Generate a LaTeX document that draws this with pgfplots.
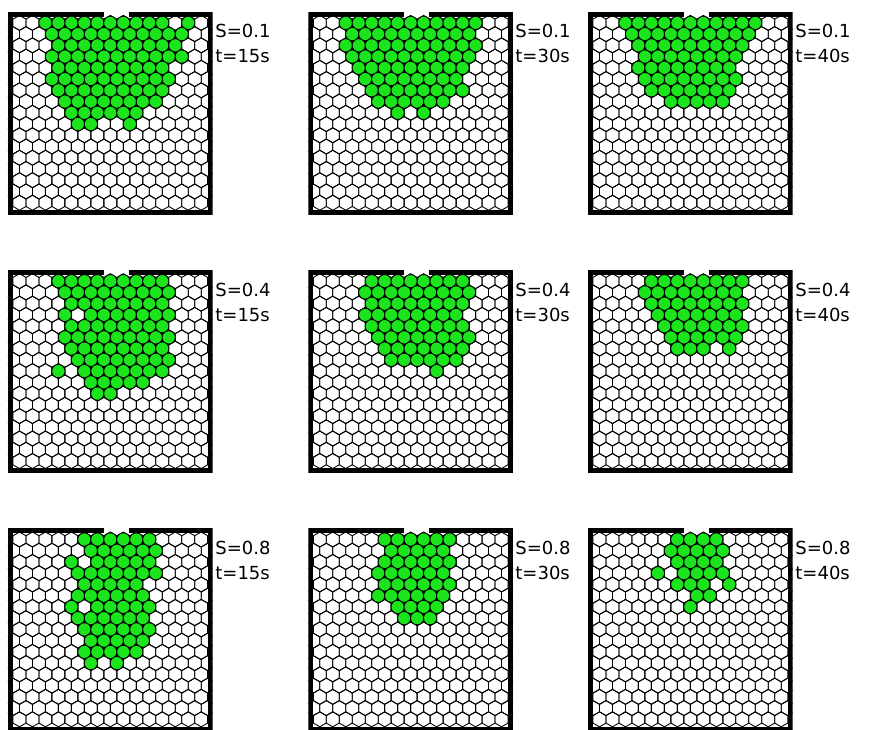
\documentclass[border=0pt]{standalone}
\usepackage{pgfplots}
\pgfplotsset{compat=1.18}
\usepackage{pgfplotstable}
\usepackage{fontspec}
\setmainfont{DejaVu Sans}
\definecolor{simgreen}{RGB}{28,228,28}

\pgfdeclareplotmark{hexa}{%
  \pgfpathmoveto{\pgfqpoint{0pt}{\pgfplotmarksize}}%
  \pgfpathlineto{\pgfqpoint{0.866\pgfplotmarksize}{0.5\pgfplotmarksize}}%
  \pgfpathlineto{\pgfqpoint{0.866\pgfplotmarksize}{-0.5\pgfplotmarksize}}%
  \pgfpathlineto{\pgfqpoint{0pt}{-\pgfplotmarksize}}%
  \pgfpathlineto{\pgfqpoint{-0.866\pgfplotmarksize}{-0.5\pgfplotmarksize}}%
  \pgfpathlineto{\pgfqpoint{-0.866\pgfplotmarksize}{0.5\pgfplotmarksize}}%
  \pgfpathclose
  \pgfusepathqstroke}

% lattice of cells: x = column position, y = row index (top row 0)
\pgfplotstableread[row sep=\\]{x y\\
0.5 0\\1.5 0\\2.5 0\\3.5 0\\4.5 0\\5.5 0\\6.5 0\\7.5 0\\8.5 0\\9.5 0\\10.5 0\\11.5 0\\12.5 0\\13.5 0\\14.5 0\\
0 1\\1 1\\2 1\\3 1\\4 1\\5 1\\6 1\\7 1\\8 1\\9 1\\10 1\\11 1\\12 1\\13 1\\14 1\\15 1\\
0.5 2\\1.5 2\\2.5 2\\3.5 2\\4.5 2\\5.5 2\\6.5 2\\7.5 2\\8.5 2\\9.5 2\\10.5 2\\11.5 2\\12.5 2\\13.5 2\\14.5 2\\
0 3\\1 3\\2 3\\3 3\\4 3\\5 3\\6 3\\7 3\\8 3\\9 3\\10 3\\11 3\\12 3\\13 3\\14 3\\15 3\\
0.5 4\\1.5 4\\2.5 4\\3.5 4\\4.5 4\\5.5 4\\6.5 4\\7.5 4\\8.5 4\\9.5 4\\10.5 4\\11.5 4\\12.5 4\\13.5 4\\14.5 4\\
0 5\\1 5\\2 5\\3 5\\4 5\\5 5\\6 5\\7 5\\8 5\\9 5\\10 5\\11 5\\12 5\\13 5\\14 5\\15 5\\
0.5 6\\1.5 6\\2.5 6\\3.5 6\\4.5 6\\5.5 6\\6.5 6\\7.5 6\\8.5 6\\9.5 6\\10.5 6\\11.5 6\\12.5 6\\13.5 6\\14.5 6\\
0 7\\1 7\\2 7\\3 7\\4 7\\5 7\\6 7\\7 7\\8 7\\9 7\\10 7\\11 7\\12 7\\13 7\\14 7\\15 7\\
0.5 8\\1.5 8\\2.5 8\\3.5 8\\4.5 8\\5.5 8\\6.5 8\\7.5 8\\8.5 8\\9.5 8\\10.5 8\\11.5 8\\12.5 8\\13.5 8\\14.5 8\\
0 9\\1 9\\2 9\\3 9\\4 9\\5 9\\6 9\\7 9\\8 9\\9 9\\10 9\\11 9\\12 9\\13 9\\14 9\\15 9\\
0.5 10\\1.5 10\\2.5 10\\3.5 10\\4.5 10\\5.5 10\\6.5 10\\7.5 10\\8.5 10\\9.5 10\\10.5 10\\11.5 10\\12.5 10\\13.5 10\\14.5 10\\
0 11\\1 11\\2 11\\3 11\\4 11\\5 11\\6 11\\7 11\\8 11\\9 11\\10 11\\11 11\\12 11\\13 11\\14 11\\15 11\\
0.5 12\\1.5 12\\2.5 12\\3.5 12\\4.5 12\\5.5 12\\6.5 12\\7.5 12\\8.5 12\\9.5 12\\10.5 12\\11.5 12\\12.5 12\\13.5 12\\14.5 12\\
0 13\\1 13\\2 13\\3 13\\4 13\\5 13\\6 13\\7 13\\8 13\\9 13\\10 13\\11 13\\12 13\\13 13\\14 13\\15 13\\
0.5 14\\1.5 14\\2.5 14\\3.5 14\\4.5 14\\5.5 14\\6.5 14\\7.5 14\\8.5 14\\9.5 14\\10.5 14\\11.5 14\\12.5 14\\13.5 14\\14.5 14\\
0 15\\1 15\\2 15\\3 15\\4 15\\5 15\\6 15\\7 15\\8 15\\9 15\\10 15\\11 15\\12 15\\13 15\\14 15\\15 15\\
0.5 16\\1.5 16\\2.5 16\\3.5 16\\4.5 16\\5.5 16\\6.5 16\\7.5 16\\8.5 16\\9.5 16\\10.5 16\\11.5 16\\12.5 16\\13.5 16\\14.5 16\\
}\lattice

% container walls (opening in the top wall)
\pgfplotstableread[row sep=\\]{x y\\
7.0 -0.772\\-0.1925 -0.772\\-0.1925 16.872\\15.1925 16.872\\15.1925 -0.772\\8.95 -0.772\\
}\walls

% S=0.1, t=15s
\pgfplotstableread[row sep=\\]{x y\\
2.5 0\\3.5 0\\4.5 0\\5.5 0\\6.5 0\\7.5 0\\8.5 0\\9.5 0\\10.5 0\\11.5 0\\13.5 0\\
3 1\\4 1\\5 1\\6 1\\7 1\\8 1\\9 1\\10 1\\11 1\\12 1\\13 1\\
3.5 2\\4.5 2\\5.5 2\\6.5 2\\7.5 2\\8.5 2\\9.5 2\\10.5 2\\11.5 2\\12.5 2\\
3 3\\4 3\\5 3\\6 3\\7 3\\8 3\\9 3\\10 3\\11 3\\12 3\\13 3\\
3.5 4\\4.5 4\\5.5 4\\6.5 4\\7.5 4\\8.5 4\\9.5 4\\10.5 4\\11.5 4\\
3 5\\4 5\\5 5\\6 5\\7 5\\8 5\\9 5\\10 5\\11 5\\12 5\\
3.5 6\\4.5 6\\5.5 6\\6.5 6\\7.5 6\\8.5 6\\9.5 6\\10.5 6\\11.5 6\\
4 7\\5 7\\6 7\\7 7\\8 7\\9 7\\10 7\\11 7\\
4.5 8\\5.5 8\\6.5 8\\7.5 8\\8.5 8\\9.5 8\\
5 9\\6 9\\9 9\\
}\pA

% S=0.1, t=30s
\pgfplotstableread[row sep=\\]{x y\\
2.5 0\\3.5 0\\4.5 0\\5.5 0\\6.5 0\\7.5 0\\8.5 0\\9.5 0\\10.5 0\\11.5 0\\12.5 0\\
3 1\\4 1\\5 1\\6 1\\7 1\\8 1\\9 1\\10 1\\11 1\\12 1\\
2.5 2\\3.5 2\\4.5 2\\5.5 2\\6.5 2\\7.5 2\\8.5 2\\9.5 2\\10.5 2\\11.5 2\\12.5 2\\
3 3\\4 3\\5 3\\6 3\\7 3\\8 3\\9 3\\10 3\\11 3\\12 3\\
3.5 4\\4.5 4\\5.5 4\\6.5 4\\7.5 4\\8.5 4\\9.5 4\\10.5 4\\11.5 4\\
4 5\\5 5\\6 5\\7 5\\8 5\\9 5\\10 5\\11 5\\
4.5 6\\5.5 6\\6.5 6\\7.5 6\\8.5 6\\9.5 6\\10.5 6\\11.5 6\\
5 7\\6 7\\7 7\\8 7\\9 7\\10 7\\
6.5 8\\8.5 8\\
}\pB

% S=0.1, t=40s
\pgfplotstableread[row sep=\\]{x y\\
2.5 0\\3.5 0\\4.5 0\\5.5 0\\6.5 0\\7.5 0\\8.5 0\\9.5 0\\10.5 0\\11.5 0\\12.5 0\\
3 1\\4 1\\5 1\\6 1\\7 1\\8 1\\9 1\\10 1\\11 1\\12 1\\
3.5 2\\4.5 2\\5.5 2\\6.5 2\\7.5 2\\8.5 2\\9.5 2\\10.5 2\\11.5 2\\
4 3\\5 3\\6 3\\7 3\\8 3\\9 3\\10 3\\11 3\\
3.5 4\\4.5 4\\5.5 4\\6.5 4\\7.5 4\\8.5 4\\9.5 4\\10.5 4\\
4 5\\5 5\\6 5\\7 5\\8 5\\9 5\\10 5\\11 5\\
4.5 6\\5.5 6\\6.5 6\\7.5 6\\8.5 6\\9.5 6\\10.5 6\\
6 7\\7 7\\8 7\\9 7\\10 7\\
}\pC

% S=0.4, t=15s
\pgfplotstableread[row sep=\\]{x y\\
3.5 0\\4.5 0\\5.5 0\\6.5 0\\7.5 0\\8.5 0\\9.5 0\\10.5 0\\11.5 0\\
4 1\\5 1\\6 1\\7 1\\8 1\\9 1\\10 1\\11 1\\12 1\\
4.5 2\\5.5 2\\6.5 2\\7.5 2\\8.5 2\\9.5 2\\10.5 2\\11.5 2\\
4 3\\6 3\\7 3\\8 3\\9 3\\10 3\\11 3\\12 3\\
4.5 4\\5.5 4\\6.5 4\\7.5 4\\8.5 4\\9.5 4\\10.5 4\\11.5 4\\
4 5\\5 5\\6 5\\7 5\\8 5\\9 5\\10 5\\11 5\\12 5\\
4.5 6\\5.5 6\\6.5 6\\7.5 6\\8.5 6\\9.5 6\\10.5 6\\11.5 6\\
5 7\\6 7\\7 7\\8 7\\9 7\\10 7\\11 7\\12 7\\
3.5 8\\5.5 8\\6.5 8\\7.5 8\\8.5 8\\9.5 8\\10.5 8\\11.5 8\\
6 9\\7 9\\8 9\\9 9\\10 9\\
6.5 10\\7.5 10\\
}\pD

% S=0.4, t=30s
\pgfplotstableread[row sep=\\]{x y\\
4.5 0\\5.5 0\\6.5 0\\7.5 0\\8.5 0\\9.5 0\\10.5 0\\11.5 0\\
4 1\\5 1\\6 1\\7 1\\8 1\\9 1\\10 1\\11 1\\12 1\\
4.5 2\\5.5 2\\6.5 2\\7.5 2\\8.5 2\\9.5 2\\10.5 2\\11.5 2\\
4 3\\5 3\\6 3\\7 3\\8 3\\9 3\\10 3\\11 3\\
4.5 4\\5.5 4\\6.5 4\\7.5 4\\8.5 4\\9.5 4\\10.5 4\\11.5 4\\
5 5\\6 5\\7 5\\8 5\\9 5\\10 5\\11 5\\12 5\\
5.5 6\\6.5 6\\7.5 6\\8.5 6\\9.5 6\\10.5 6\\11.5 6\\
6 7\\7 7\\8 7\\9 7\\10 7\\11 7\\
9.5 8\\
}\pE

% S=0.4, t=40s
\pgfplotstableread[row sep=\\]{x y\\
4.5 0\\5.5 0\\6.5 0\\7.5 0\\8.5 0\\9.5 0\\10.5 0\\11.5 0\\
4 1\\5 1\\6 1\\7 1\\8 1\\9 1\\10 1\\11 1\\
4.5 2\\5.5 2\\6.5 2\\7.5 2\\8.5 2\\9.5 2\\10.5 2\\11.5 2\\
5 3\\6 3\\7 3\\8 3\\9 3\\10 3\\11 3\\
5.5 4\\6.5 4\\7.5 4\\8.5 4\\9.5 4\\10.5 4\\11.5 4\\
6 5\\7 5\\8 5\\9 5\\10 5\\11 5\\
6.5 6\\7.5 6\\8.5 6\\10.5 6\\
}\pF

% S=0.8, t=15s
\pgfplotstableread[row sep=\\]{x y\\
5.5 0\\6.5 0\\7.5 0\\8.5 0\\9.5 0\\10.5 0\\
6 1\\7 1\\8 1\\9 1\\10 1\\11 1\\
4.5 2\\6.5 2\\7.5 2\\8.5 2\\9.5 2\\10.5 2\\
5 3\\6 3\\7 3\\8 3\\9 3\\10 3\\11 3\\
5.5 4\\6.5 4\\7.5 4\\8.5 4\\9.5 4\\
5 5\\6 5\\7 5\\8 5\\9 5\\10 5\\
4.5 6\\6.5 6\\7.5 6\\8.5 6\\9.5 6\\10.5 6\\
5 7\\6 7\\7 7\\8 7\\9 7\\10 7\\
5.5 8\\6.5 8\\7.5 8\\8.5 8\\9.5 8\\10.5 8\\
6 9\\7 9\\8 9\\9 9\\10 9\\
5.5 10\\6.5 10\\7.5 10\\8.5 10\\9.5 10\\
6 11\\8 11\\
}\pG

% S=0.8, t=30s
\pgfplotstableread[row sep=\\]{x y\\
5.5 0\\6.5 0\\7.5 0\\8.5 0\\9.5 0\\10.5 0\\
6 1\\7 1\\8 1\\9 1\\10 1\\
5.5 2\\6.5 2\\7.5 2\\8.5 2\\9.5 2\\10.5 2\\
5 3\\6 3\\7 3\\8 3\\9 3\\10 3\\
5.5 4\\6.5 4\\7.5 4\\8.5 4\\9.5 4\\10.5 4\\
5 5\\6 5\\7 5\\8 5\\9 5\\10 5\\
6.5 6\\7.5 6\\8.5 6\\9.5 6\\
7 7\\8 7\\9 7\\
}\pH

% S=0.8, t=40s
\pgfplotstableread[row sep=\\]{x y\\
6.5 0\\7.5 0\\8.5 0\\9.5 0\\
6 1\\7 1\\8 1\\9 1\\10 1\\
6.5 2\\7.5 2\\8.5 2\\9.5 2\\
5 3\\7 3\\8 3\\9 3\\10 3\\
6.5 4\\7.5 4\\8.5 4\\10.5 4\\
8 5\\9 5\\
7.5 6\\
}\pI

\newcommand{\panel}[3]{%
\begin{axis}[at={(#1pt,#2pt)}, anchor=north west, hide axis,
  x=6.49pt, y=5.62pt, y dir=reverse,
  xmin=-0.385, xmax=15.385, ymin=-0.995, ymax=17.095,
  clip=true, clip marker paths=true]
  \addplot[only marks, mark=hexa, mark size=3.745pt,
    mark options={draw=black, line width=0.45pt}] table {\lattice};
  \addplot[only marks, mark=*, mark size=3.3pt,
    mark options={fill=simgreen, draw=none}] table {#3};
  \addplot[black, line width=2.6pt, mark=none] table {\walls};
\end{axis}}

\begin{document}
\begin{tikzpicture}
\useasboundingbox (0,0) rectangle (435pt,364.5pt);
\panel{4.0}{358.65}{\pA}
\panel{154.15}{358.65}{\pB}
\panel{294.0}{358.65}{\pC}
\panel{4.0}{229.5}{\pD}
\panel{154.15}{229.5}{\pE}
\panel{294.0}{229.5}{\pF}
\panel{4.0}{100.35}{\pG}
\panel{154.15}{100.35}{\pH}
\panel{294.0}{100.35}{\pI}
\begin{scope}[every node/.style={anchor=base west, inner sep=0pt, font=\fontsize{9}{11}\selectfont}]
\node at (107.5pt,345.5pt) {S=0.1}; \node at (107.5pt,333pt) {t=15s};
\node at (257.5pt,345.5pt) {S=0.1}; \node at (257.5pt,333pt) {t=30s};
\node at (397.5pt,345.5pt) {S=0.1}; \node at (397.5pt,333pt) {t=40s};
\node at (107.5pt,216.35pt) {S=0.4}; \node at (107.5pt,203.85pt) {t=15s};
\node at (257.5pt,216.35pt) {S=0.4}; \node at (257.5pt,203.85pt) {t=30s};
\node at (397.5pt,216.35pt) {S=0.4}; \node at (397.5pt,203.85pt) {t=40s};
\node at (107.5pt,87.2pt) {S=0.8}; \node at (107.5pt,74.7pt) {t=15s};
\node at (257.5pt,87.2pt) {S=0.8}; \node at (257.5pt,74.7pt) {t=30s};
\node at (397.5pt,87.2pt) {S=0.8}; \node at (397.5pt,74.7pt) {t=40s};
\end{scope}
\end{tikzpicture}
\end{document}
